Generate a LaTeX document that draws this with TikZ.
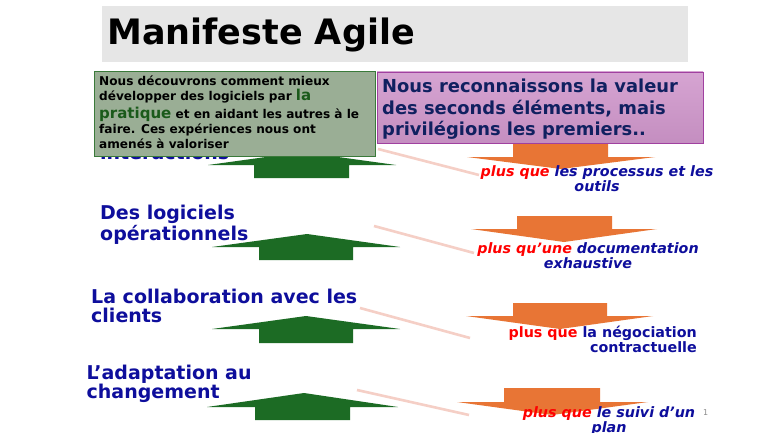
\documentclass[tikz,border=0pt]{standalone}
\usepackage{fontspec}
\setmainfont{DejaVu Sans}
\definecolor{titlegray}{HTML}{E6E6E6}
\definecolor{boxgreen}{HTML}{9AAE95}
\definecolor{boxgreenline}{HTML}{3A7A3A}
\definecolor{pinktop}{HTML}{D6A4D2}
\definecolor{pinkbot}{HTML}{C48EC0}
\definecolor{pinkline}{HTML}{A040A0}
\definecolor{navytext}{HTML}{102060}
\definecolor{arrowgreen}{HTML}{1C6B24}
\definecolor{arroworange}{HTML}{E87535}
\definecolor{textblue}{HTML}{0E0E9C}
\definecolor{textred}{HTML}{FF0000}
\definecolor{darkgreentext}{HTML}{1A5A1A}
\definecolor{faintline}{HTML}{F5CFC6}
\definecolor{pagenum}{HTML}{8C8C8C}
\tikzset{
  lefttext/.style={anchor=base west, inner sep=0pt, align=left, text=textblue,
    font=\fontsize{19}{19}\selectfont\bfseries},
  righttext/.style={anchor=base, inner sep=0pt, align=center, text=textblue,
    font=\fontsize{14.3}{15}\selectfont\bfseries\itshape},
  uparrowshape/.style={fill=arrowgreen},
  downarrowshape/.style={fill=arroworange},
  faint/.style={draw=faintline, line width=2.6pt},
}
\begin{document}
\begin{tikzpicture}[x=1pt,y=-1pt]
\useasboundingbox (0,0) rectangle (768,433);
\fill[white] (0,0) rectangle (768,433);

% title bar
\node (titlebar) [fill=titlegray, minimum width=586pt, minimum height=56pt,
  anchor=north west, inner sep=0pt] at (102,6) {};
\node (title) [anchor=base west, inner sep=0pt,
  font=\fontsize{35}{40}\selectfont\bfseries] at (107,45) {Manifeste Agile};

% faint connectors
\coordinate (l1a) at (378,149); \coordinate (l1b) at (479,175);
\coordinate (l2a) at (374,226); \coordinate (l2b) at (474,253);
\coordinate (l3a) at (360,308); \coordinate (l3b) at (470,338);
\coordinate (l4a) at (357,390); \coordinate (l4b) at (469,415);
\draw[faint] (l1a) -- (l1b);
\draw[faint] (l2a) -- (l2b);
\draw[faint] (l3a) -- (l3b);
\draw[faint] (l4a) -- (l4b);

% green up arrows
\fill[uparrowshape] (208,165) -- (302,152) -- (396,165) -- (349,165) -- (349,178) -- (254,178) -- (254,165) -- cycle;
\fill[uparrowshape] (212,247) -- (307,234) -- (400,247) -- (353,247) -- (353,260) -- (259,260) -- (259,247) -- cycle;
\fill[uparrowshape] (212,329) -- (306,316) -- (400,329) -- (353,329) -- (353,343) -- (259,343) -- (259,329) -- cycle;
\fill[uparrowshape] (207,407) -- (304,393) -- (398,407) -- (350,407) -- (350,420) -- (255,420) -- (255,407) -- cycle;

% orange down arrows
\fill[downarrowshape] (513,143) -- (608,143) -- (608,157) -- (655,157) -- (561,169) -- (467,157) -- (513,157) -- cycle;
\fill[downarrowshape] (517,216) -- (612,216) -- (612,229) -- (657,229) -- (564,242) -- (471,229) -- (517,229) -- cycle;
\fill[downarrowshape] (513,303) -- (607,303) -- (607,316) -- (653,316) -- (560,329) -- (466,316) -- (513,316) -- cycle;
\fill[downarrowshape] (504,388) -- (600,388) -- (600,402) -- (648,402) -- (552,415) -- (457,402) -- (504,402) -- cycle;

% left values (anchor = baseline of last line)
\node (v1) [lefttext] at (100,159) {Les individus et leurs\\interactions};
\node (v2) [lefttext] at (100,240) {Des logiciels\\opérationnels};
\node (v3) [lefttext] at (91,322.3) {La collaboration avec les\\clients};
\node (v4) [lefttext] at (86.5,398) {L’adaptation au\\changement};

% right values (anchor = baseline of last line)
\node (r1) [righttext] at (597,191.5) {\textcolor{textred}{plus que} les processus et les\\outils};
\node (r2) [righttext] at (588,268.5) {\textcolor{textred}{plus qu’une} documentation\\exhaustive};
\node (r3) [righttext, anchor=base east, align=right,
  font=\fontsize{14.3}{15.5}\selectfont\bfseries] at (697,352.7) {\textcolor{textred}{plus que} la négociation\\contractuelle};
\node (r4) [righttext] at (609,432) {\textcolor{textred}{plus que} le suivi d’un\\plan};
\node (pnum) [anchor=base west, inner sep=0pt, text=pagenum,
  font=\fontsize{8}{9}\selectfont] at (703,415) {1};

% green box
\node (gbox) [fill=boxgreen, draw=boxgreenline, line width=0.8pt,
  minimum width=281pt, minimum height=85pt, anchor=north west, inner sep=0pt] at (94,71) {};
\node (gtext) [anchor=base west, inner sep=0pt, align=left,
  font=\fontsize{12.1}{15.2}\selectfont\bfseries] at (99,148.5)
  {Nous découvrons comment mieux\\
   développer des logiciels par {\fontsize{15}{15}\selectfont\textcolor{darkgreentext}{la}}\\[2pt]
   {\fontsize{15}{15}\selectfont\textcolor{darkgreentext}{pratique}} et en aidant les autres à le\\
   faire. Ces expériences nous ont\\
   amenés à valoriser};

% pink box
\shade[top color=pinktop, bottom color=pinkbot, draw=pinkline, line width=0.8pt]
  (377,72) rectangle (703,143);
\node (pbox) [minimum width=326pt, minimum height=71pt, anchor=north west, inner sep=0pt] at (377,72) {};
\node (ptext) [anchor=base west, inner sep=0pt, align=left, text=navytext,
  font=\fontsize{17.9}{21.7}\selectfont\bfseries] at (382,135.7)
  {Nous reconnaissons la valeur\\des seconds éléments, mais\\privilégions les premiers..};
\end{tikzpicture}
\end{document}
